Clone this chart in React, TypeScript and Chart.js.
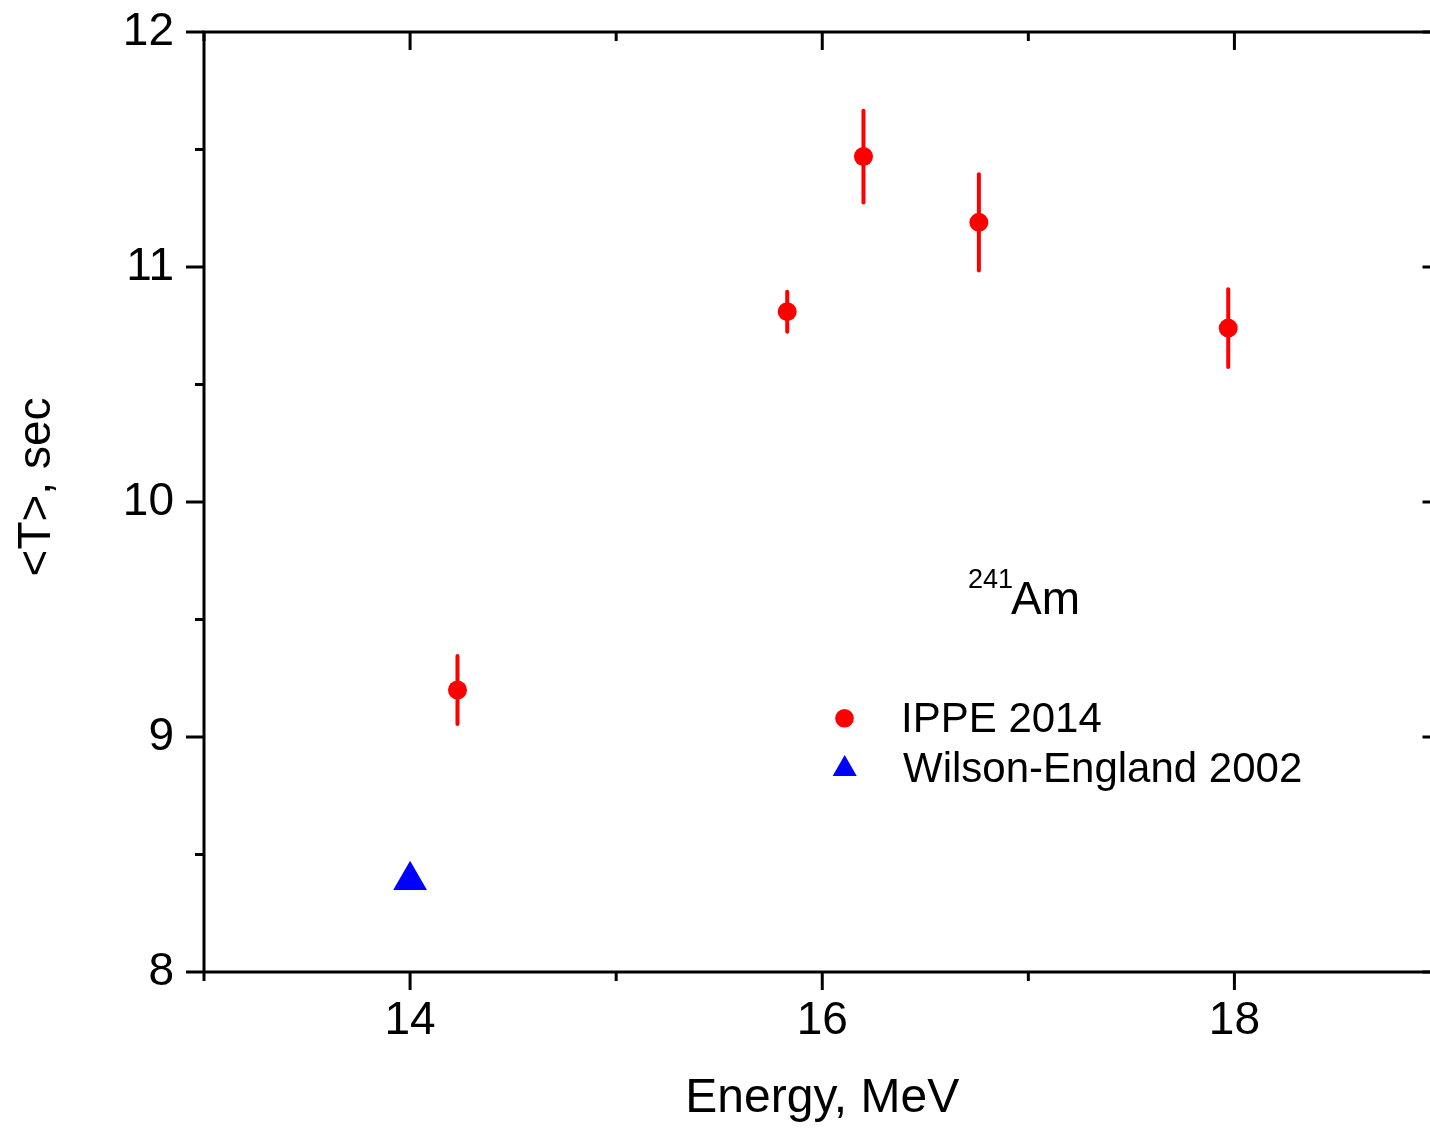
import React, { useEffect, useRef } from 'react';
import { Chart, registerables } from 'chart.js';

Chart.register(...registerables);

// ---- data ----
const ippeEnergy = [14.23, 15.83, 16.2, 16.76, 17.97];
const ippeT = [9.2, 10.81, 11.47, 11.19, 10.74];
const ippeErr = [0.145, 0.085, 0.195, 0.205, 0.165];
const wilsonEnergy = [14.0];
const wilsonT = [8.39];
const seriesNames = ['IPPE 2014', 'Wilson-England 2002'];
const xLabelTicks = [14, 16, 18];
const xRange = [13, 19];
const yRange = [8, 12];
const xAxisTitle = 'Energy, MeV';
const yAxisTitle = '<T>, sec';
const isotopeMass = '241';
const isotopeName = 'Am';

const FONT = '"Liberation Sans", Arial, sans-serif';
const RED = '#ff0000';
const BLUE = '#0000ff';

const errorBars = {
  id: 'errorBars',
  beforeDatasetsDraw(chart: any) {
    const { ctx, scales } = chart;
    const x = scales.x;
    const y = scales.y;
    ctx.save();
    ctx.strokeStyle = RED;
    ctx.lineWidth = 4;
    ctx.lineCap = 'round';
    ippeEnergy.forEach((e, i) => {
      const px = x.getPixelForValue(e);
      ctx.beginPath();
      ctx.moveTo(px, y.getPixelForValue(ippeT[i] + ippeErr[i]));
      ctx.lineTo(px, y.getPixelForValue(ippeT[i] - ippeErr[i]));
      ctx.stroke();
    });
    ctx.restore();
  },
};

const frame = {
  id: 'frame',
  afterDraw(chart: any) {
    const { ctx, chartArea, scales } = chart;
    const { left, right, top, bottom } = chartArea;
    const x = scales.x;
    const y = scales.y;
    ctx.save();
    ctx.strokeStyle = '#000';
    ctx.lineWidth = 3;
    const line = (x1: number, y1: number, x2: number, y2: number) => {
      ctx.beginPath();
      ctx.moveTo(x1, y1);
      ctx.lineTo(x2, y2);
      ctx.stroke();
    };
    ctx.strokeRect(left, top, right - left, bottom - top);
    for (let v = yRange[0]; v <= yRange[1] + 1e-6; v += 0.5) {
      const py = y.getPixelForValue(v);
      const len = Math.abs(v - Math.round(v)) < 1e-6 ? 18 : 9;
      line(left - len, py, left, py);
      line(right - len, py, right, py);
    }
    for (let v = xRange[0]; v <= xRange[1] + 1e-6; v += 1) {
      const px = x.getPixelForValue(v);
      const len = xLabelTicks.includes(v) ? 18 : 9;
      line(px, bottom, px, bottom + len);
      line(px, top, px, top + len);
    }
    ctx.restore();

    // y axis title
    ctx.save();
    ctx.fillStyle = '#000';
    ctx.font = `46px ${FONT}`;
    ctx.textAlign = 'center';
    ctx.textBaseline = 'alphabetic';
    ctx.translate(50, 487);
    ctx.rotate(-Math.PI / 2);
    ctx.fillText(yAxisTitle, 0, 0);
    ctx.restore();

    // annotation + legend
    ctx.save();
    ctx.fillStyle = '#000';
    ctx.textBaseline = 'alphabetic';
    ctx.textAlign = 'left';
    ctx.font = `27px ${FONT}`;
    ctx.fillText(isotopeMass, 968, 588);
    ctx.font = `46px ${FONT}`;
    ctx.fillText(isotopeName, 1011, 614);

    ctx.font = `42px ${FONT}`;
    ctx.fillText(seriesNames[0], 901, 732);
    ctx.fillText(seriesNames[1], 903, 782);

    ctx.fillStyle = RED;
    ctx.beginPath();
    ctx.arc(844.5, 718.3, 9.3, 0, Math.PI * 2);
    ctx.fill();

    ctx.fillStyle = BLUE;
    const r = 13.9;
    const cx = 844.7;
    const cy = 769;
    ctx.beginPath();
    ctx.moveTo(cx, cy - r);
    ctx.lineTo(cx + r * Math.sin((2 * Math.PI) / 3), cy - r * Math.cos((2 * Math.PI) / 3));
    ctx.lineTo(cx + r * Math.sin((4 * Math.PI) / 3), cy - r * Math.cos((4 * Math.PI) / 3));
    ctx.closePath();
    ctx.fill();
    ctx.restore();
  },
};

export default function App() {
  const ref = useRef<HTMLCanvasElement | null>(null);

  useEffect(() => {
    if (!ref.current) return;
    Chart.defaults.font.family = FONT;
    const chart = new Chart(ref.current, {
      type: 'scatter',
      data: {
        datasets: [
          {
            label: seriesNames[0],
            data: ippeEnergy.map((e, i) => ({ x: e, y: ippeT[i] })),
            pointStyle: 'circle',
            pointRadius: 9.5,
            pointHoverRadius: 9.5,
            backgroundColor: RED,
            borderColor: RED,
            borderWidth: 0,
            showLine: false,
          },
          {
            label: seriesNames[1],
            data: wilsonEnergy.map((e, i) => ({ x: e, y: wilsonT[i] })),
            pointStyle: 'triangle',
            pointRadius: 19.5,
            pointHoverRadius: 19.5,
            backgroundColor: BLUE,
            borderColor: BLUE,
            borderWidth: 0,
            showLine: false,
          },
        ],
      },
      options: {
        responsive: false,
        animation: false,
        devicePixelRatio: 1,
        layout: { padding: { top: 32, right: 16, left: 0, bottom: 0 } },
        plugins: {
          legend: { display: false },
          tooltip: { enabled: false },
        },
        scales: {
          x: {
            type: 'linear',
            min: xRange[0],
            max: xRange[1],
            grid: { display: false, drawTicks: false },
            border: { display: false },
            ticks: {
              stepSize: 1,
              autoSkip: false,
              maxRotation: 0,
              color: '#000',
              padding: 22,
              font: { size: 46, family: FONT },
              callback: (v: any) => (xLabelTicks.includes(Number(v)) ? String(v) : ''),
            },
            title: {
              display: true,
              text: xAxisTitle,
              color: '#000',
              font: { size: 48, family: FONT },
              padding: { top: 0, bottom: 0 },
            },
            afterFit: (s: any) => {
              s.height = 156;
              s.paddingLeft = 0;
              s.paddingRight = 0;
            },
          },
          y: {
            type: 'linear',
            min: yRange[0],
            max: yRange[1],
            grid: { display: false, drawTicks: false },
            border: { display: false },
            ticks: {
              stepSize: 1,
              color: '#000',
              padding: 30,
              font: { size: 46, family: FONT },
            },
            title: { display: false },
            afterFit: (s: any) => {
              s.width = 204;
              s.paddingTop = 0;
              s.paddingBottom = 0;
            },
          },
        },
      },
      plugins: [errorBars, frame],
    });
    return () => chart.destroy();
  }, []);

  return (
    <div
      style={{
        position: 'absolute',
        left: 0,
        top: 0,
        width: 1430,
        height: 1128,
        overflow: 'hidden',
        background: '#fff',
      }}
    >
      <canvas ref={ref} width={1460} height={1128} style={{ display: 'block' }} />
    </div>
  );
}
